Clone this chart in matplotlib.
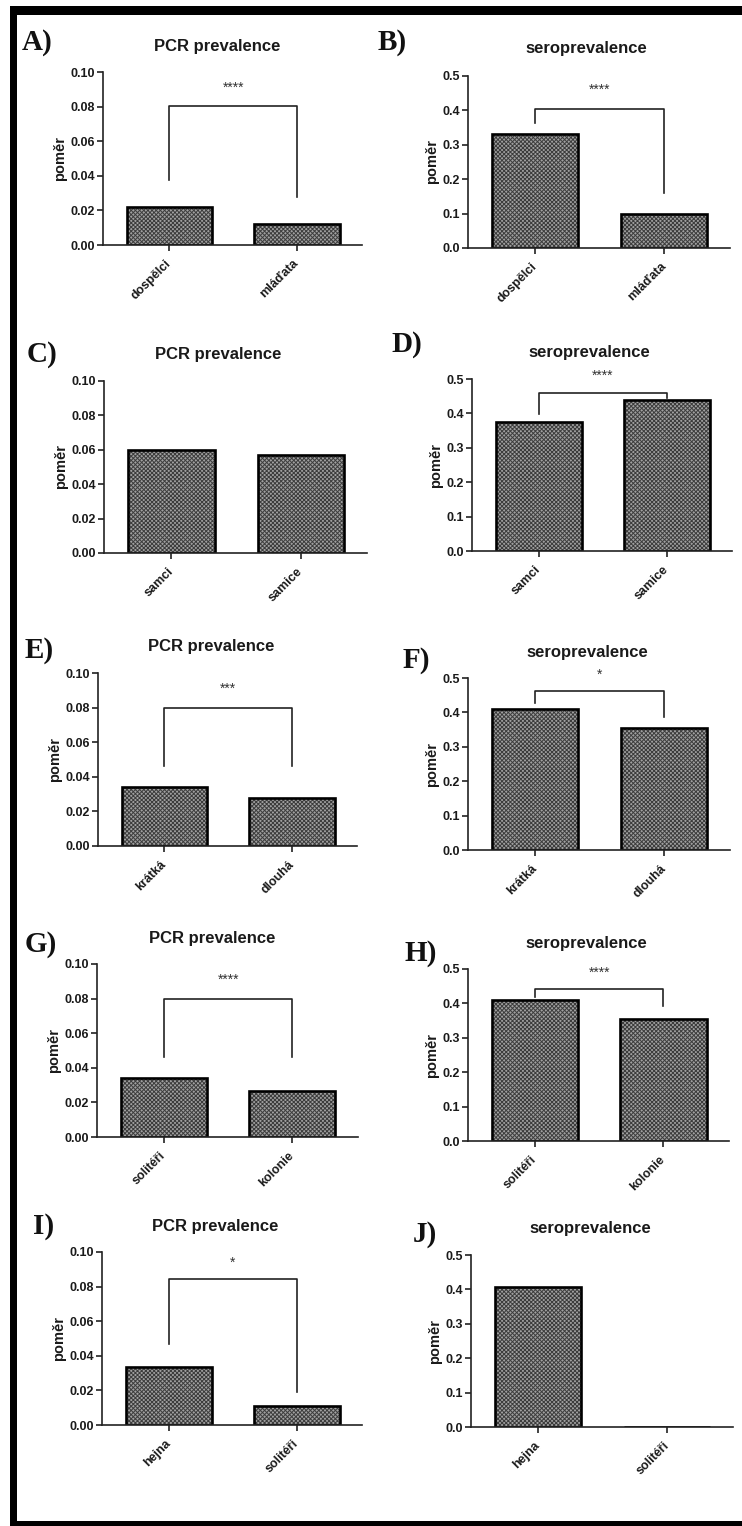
import numpy as np
import matplotlib
matplotlib.use("Agg")
import matplotlib.pyplot as plt
from matplotlib.patches import Rectangle

W, H = 742, 1526

# data
labels_A = ['dospělci', 'mláďata']
pcr_A = [0.022, 0.012]
sero_B = [0.33, 0.10]

labels_C = ['samci', 'samice']
pcr_C = [0.060, 0.057]
sero_D = [0.375, 0.439]

labels_E = ['krátká', 'dlouhá']
pcr_E = [0.034, 0.0275]
sero_F = [0.41, 0.355]

labels_G = ['solitéři', 'kolonie']
pcr_G = [0.034, 0.0265]
sero_H = [0.41, 0.355]

labels_I = ['hejna', 'solitéři']
pcr_I = [0.0335, 0.011]
sero_J = [0.407, 0.0]

stars = ['****', '****', None, '****', '***', '*', '****', '****', '*', None]

plt.rcParams['font.family'] = ['Liberation Sans', 'DejaVu Sans']
plt.rcParams['hatch.linewidth'] = 0.7

fig = plt.figure(figsize=(W / 100, H / 100), dpi=100)

# panel: letter, title, labels, values, ymax, axes box px (x0, x1, ytop, ybot),
# letter pos px, title pos px, bracket (top, left leg, right leg, star y)
panels = [
    ('A)', 'PCR prevalence', labels_A, pcr_A, 0.10, (103, 362, 72, 245), (22, 43), (217, 47), (0.0805, 0.0376, 0.028, 0.091)),
    ('B)', 'seroprevalence', labels_A, sero_B, 0.5, (468, 730, 76, 248), (378, 43), (586, 49), (0.404, 0.363, 0.16, 0.46)),
    ('C)', 'PCR prevalence', labels_C, pcr_C, 0.10, (104, 367, 381, 553), (27, 355), (218, 355), None),
    ('D)', 'seroprevalence', labels_C, sero_D, 0.5, (472, 732, 379, 551), (391, 345), (589, 353), (0.459, 0.398, 0.445, 0.51)),
    ('E)', 'PCR prevalence', labels_E, pcr_E, 0.10, (98, 357, 673, 846), (25, 650), (211, 647), (0.080, 0.046, 0.046, 0.091)),
    ('F)', 'seroprevalence', labels_E, sero_F, 0.5, (468, 730, 678, 850), (403, 660), (587, 653), (0.462, 0.427, 0.387, 0.51)),
    ('G)', 'PCR prevalence', labels_G, pcr_G, 0.10, (97, 358, 964, 1137), (25, 945), (212, 939), (0.080, 0.046, 0.046, 0.091)),
    ('H)', 'seroprevalence', labels_G, sero_H, 0.5, (468, 729, 969, 1141), (404, 953), (586, 943), (0.442, 0.419, 0.392, 0.49)),
    ('I)', 'PCR prevalence', labels_I, pcr_I, 0.10, (102, 362, 1252, 1425), (33, 1227), (215, 1227), (0.0844, 0.047, 0.019, 0.094)),
    ('J)', 'seroprevalence', labels_I, sero_J, 0.5, (471, 733, 1255, 1427), (413, 1235), (590, 1229), None),
]

for (letter, title, labels, vals, ymax, box, lpos, tpos, br), star in zip(panels, stars):
    x0, x1, yt, yb = box
    ax = fig.add_axes([x0 / W, 1 - yb / H, (x1 - x0) / W, (yb - yt) / H])
    x = np.arange(len(vals))
    ax.bar(x, vals, 0.67, color='#a0a0a0', edgecolor='#3c3c3c', hatch='xxxxxxxx', linewidth=0)
    ax.bar(x, vals, 0.67, fill=False, edgecolor='black', linewidth=1.9)
    ax.set_xlim(-0.52, 1.51)
    ax.set_ylim(0, ymax)
    ticks = np.linspace(0, ymax, 6)
    ax.set_yticks(ticks)
    fmt = '{:.2f}' if ymax < 0.2 else '{:.1f}'
    ax.set_yticklabels([fmt.format(v) for v in ticks])
    ax.set_xticks(x)
    ax.set_xticklabels(labels, rotation=45, ha='right', va='center', rotation_mode='anchor')
    for s in ['top', 'right']:
        ax.spines[s].set_visible(False)
    for s in ['left', 'bottom']:
        ax.spines[s].set_linewidth(1.2)
        ax.spines[s].set_color('#222222')
    ax.tick_params(axis='both', direction='out', length=4, width=1.2, color='#222222',
                   labelsize=9, pad=2)
    ax.tick_params(axis='x', pad=8)
    for t in ax.get_yticklabels() + ax.get_xticklabels():
        t.set_fontweight('bold')
        t.set_color('#1a1a1a')
    ax.set_ylabel('poměr', fontsize=10.5, fontweight='bold', color='#1a1a1a', labelpad=2)
    ax.patch.set_alpha(0)

    if br is not None:
        top, left_leg, right_leg, sy = br
        ax.plot([0, 0, 1, 1], [left_leg, top, top, right_leg], color='#222222', lw=1.2,
                clip_on=False)
        ax.text(0.5, sy, star, ha='center', va='center', fontsize=10, color='#333333',
                clip_on=False)

    fig.text(lpos[0] / W, 1 - lpos[1] / H, letter, family='Liberation Serif',
             fontweight='bold', fontsize=21, ha='left', va='center', color='#111111')
    fig.text(tpos[0] / W, 1 - tpos[1] / H, title, fontweight='bold', fontsize=12,
             ha='center', va='center', color='#1a1a1a')

# black frame around the figure (left, top, bottom)
for (bx, by, bw, bh) in [(10, 6, 732, 9), (10, 6, 7, 1520), (10, 1521, 732, 5)]:
    fig.patches.append(Rectangle((bx / W, 1 - (by + bh) / H), bw / W, bh / H,
                                 transform=fig.transFigure, facecolor='black',
                                 edgecolor='none'))

fig.savefig('out.png', dpi=100)
